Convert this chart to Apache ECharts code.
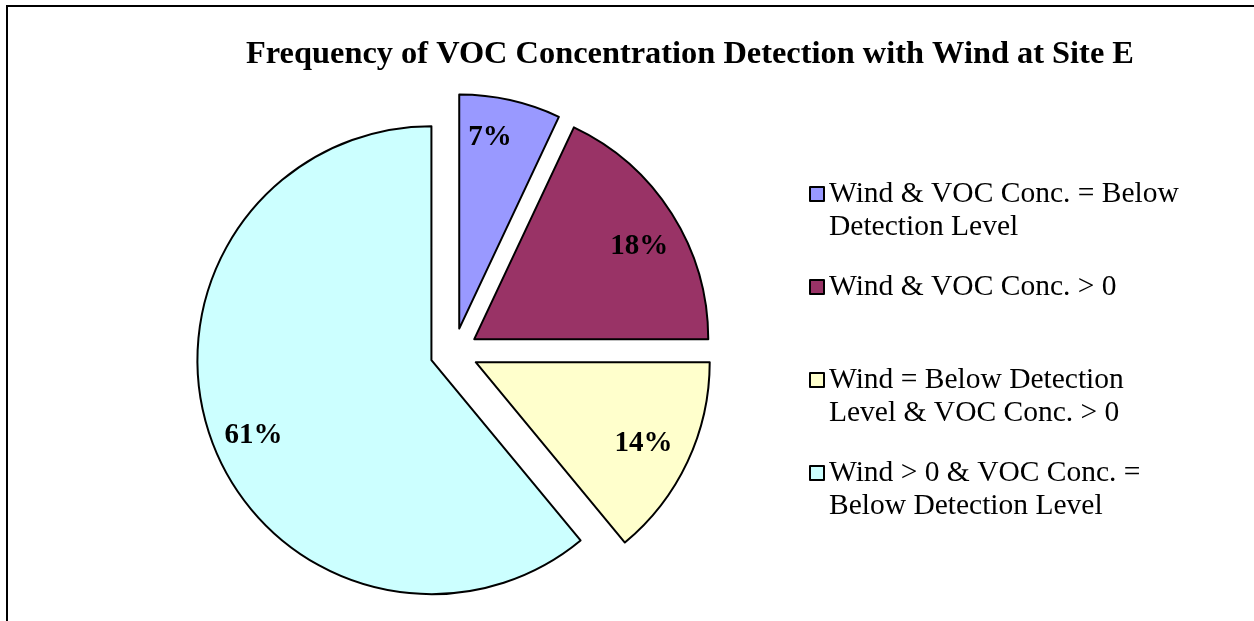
<!DOCTYPE html>
<html>
<head>
<meta charset="utf-8">
<title>Frequency of VOC Concentration Detection with Wind at Site E</title>
<script src="https://cdn.jsdelivr.net/npm/echarts@6/dist/echarts.min.js"></script>
<style>
  html, body { margin: 0; padding: 0; background: #fff; }
  #wrap { position: relative; width: 1254px; height: 621px; overflow: hidden; }
  #frame { position: absolute; left: 6px; top: 5px; width: 1300px; height: 700px;
           border-top: 2px solid #000; border-left: 2px solid #000; box-sizing: border-box; }
  #chart { position: absolute; left: 0; top: 0; width: 1254px; height: 621px; }
</style>
</head>
<body>
<div id="wrap">
  <div id="frame"></div>
  <div id="chart"></div>
</div>
<script>
// Categories (legend text, wrapped as displayed) and their shares in percent
const categories = [
  'Wind & VOC Conc. = Below\nDetection Level',
  'Wind & VOC Conc. > 0',
  'Wind = Below Detection\nLevel & VOC Conc. > 0',
  'Wind > 0 & VOC Conc. =\nBelow Detection Level'
];
const values = [7, 18, 14, 61];
const colors = ['#9999FF', '#993366', '#FFFFCC', '#CCFFFF'];

const FONT = '"Liberation Serif", "Times New Roman", serif';
const CENTER = [454, 352];
const R = 234;
const EXPLODE = 24;
const LINE_H = 33.5;

// small nudges of the percentage labels within their slices
const labelNudges = [[-12, 0], [0, 12], [-9, -2], [6, 9]];

const chart = echarts.init(document.getElementById('chart'), null, { renderer: 'canvas' });

const sliceData = categories.map((name, i) => ({
  name: name,
  value: values[i],
  selected: true,
  itemStyle: { color: colors[i] }
}));

// One legend block per entry; wrapped entries get a blank lead line so the
// icon lines up with their first text line
const iconCenters = [194, 287, 380, 473];
const legends = categories.map((name, i) => {
  const lines = name.split('\n').length;
  const shown = lines > 1 ? lines * 2 - 1 : 1;
  const boxH = shown * LINE_H;
  return {
    orient: 'vertical',
    left: 809,
    top: iconCenters[i] - boxH / 2,
    padding: 0,
    selectedMode: false,
    icon: 'rect',
    itemWidth: 14,
    itemHeight: 14,
    itemStyle: { borderColor: '#000', borderWidth: 2 },
    formatter: n => (lines > 1 ? '\n'.repeat(lines - 1) + n : n),
    textStyle: {
      fontFamily: FONT, fontSize: 29.5, color: '#000', lineHeight: LINE_H
    },
    data: [name]
  };
});

chart.setOption({
  animation: false,
  title: {
    text: 'Frequency of VOC Concentration Detection with Wind at Site E',
    left: 685, top: 34, textAlign: 'center',
    textStyle: { fontFamily: FONT, fontSize: 32.4, fontWeight: 'bold', color: '#000' }
  },
  legend: legends,
  series: [
    {
      type: 'pie',
      center: CENTER,
      radius: [0, R],
      startAngle: 90,
      clockwise: true,
      selectedMode: 'multiple',
      selectedOffset: EXPLODE,
      avoidLabelOverlap: false,
      label: { show: false },
      labelLine: { show: false },
      itemStyle: { borderColor: '#000', borderWidth: 2 },
      select: { itemStyle: { borderColor: '#000', borderWidth: 2 } },
      emphasis: { disabled: true },
      silent: true,
      data: sliceData
    },
    {
      // transparent ring that carries the percentage labels out toward the rim
      type: 'pie',
      center: CENTER,
      radius: [151, R],
      startAngle: 90,
      clockwise: true,
      selectedMode: 'multiple',
      selectedOffset: EXPLODE,
      avoidLabelOverlap: false,
      itemStyle: { color: 'rgba(0,0,0,0)', borderWidth: 0 },
      select: { itemStyle: { color: 'rgba(0,0,0,0)', borderWidth: 0 } },
      emphasis: { disabled: true },
      silent: true,
      label: {
        show: true,
        position: 'inside',
        formatter: '{c}%',
        fontFamily: FONT, fontSize: 29, fontWeight: 'bold', color: '#000'
      },
      labelLayout: params => ({
        dx: labelNudges[params.dataIndex][0],
        dy: labelNudges[params.dataIndex][1]
      }),
      labelLine: { show: false },
      data: categories.map((name, i) => ({ name: name, value: values[i], selected: true }))
    }
  ]
});
</script>
</body>
</html>
